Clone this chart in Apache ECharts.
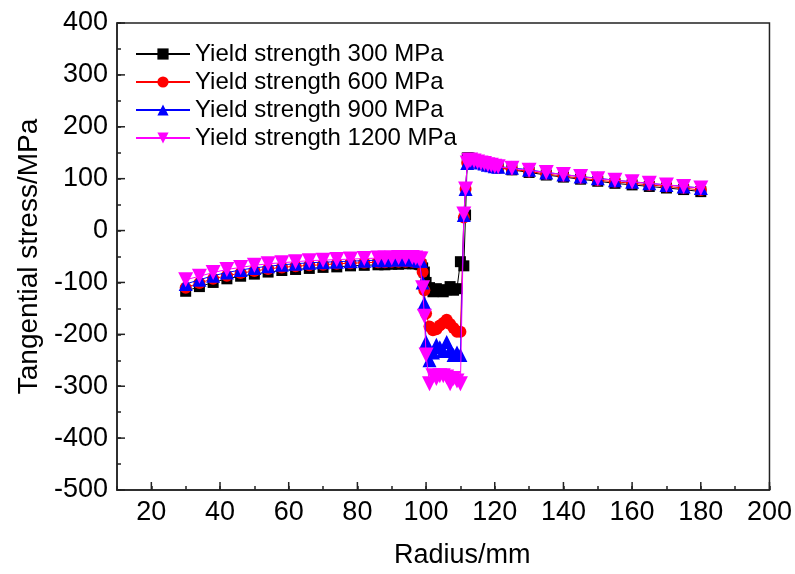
<!DOCTYPE html>
<html>
<head>
<meta charset="utf-8">
<script src="https://cdn.jsdelivr.net/npm/echarts@6/dist/echarts.min.js"></script>
<style>
  html, body { margin: 0; padding: 0; background: #fff; }
  #chart { width: 795px; height: 574px; }
</style>
</head>
<body>
<div id="chart"></div>
<script>
// radius positions (mm), shared by all four series
const radius = [
  30, 34, 38, 42, 46, 50, 54, 58, 62, 66, 70, 74, 78, 82, 86, 88, 90, 92, 94, 96, 97, 98,
  98.5, 99, 99.5, 100, 101, 102, 103, 104, 105, 106, 107, 108, 109, 110, 111, 111.5, 112,
  112.5, 113, 114, 115, 116, 117, 118, 119, 120, 121,
  125, 130, 135, 140, 145, 150, 155, 160, 165, 170, 175, 180
]

const names = [
  'Yield strength 300 MPa',
  'Yield strength 600 MPa',
  'Yield strength 900 MPa',
  'Yield strength 1200 MPa'
]

const stress300 = [
  -117, -108, -100, -93, -88, -84, -80, -77, -75, -73, -71, -70, -68, -67, -66, -66, -65, -65, -64, -64, -64, -65,
  -66, -72, -80, -100, -110, -118, -112, -115, -118, -114, -108, -115, -112, -60, -68, 30, 140,
  140, 138, 135, 133, 131, 129, 127, 125, 123, 121,
  117, 112, 107, 103, 99, 95, 91, 88, 85, 82, 79, 75
]
const stress600 = [
  -110, -101, -93, -87, -82, -78, -74, -71, -69, -67, -66, -64, -63, -62, -61, -61, -60, -60, -60, -60, -60, -62,
  -62, -80, -115, -160, -185, -192, -190, -183, -178, -172, -180, -188, -195, -195, 25, 80, 130,
  132, 134, 133, 131, 129, 127, 125, 124, 122, 121,
  118, 114, 109, 105, 101, 97, 94, 91, 88, 85, 82, 78
]
const stress900 = [
  -103, -95, -87, -81, -76, -72, -69, -66, -64, -62, -61, -60, -59, -58, -57, -57, -56, -56, -56, -56, -56, -58,
  -58, -100, -140, -215, -250, -235, -220, -225, -232, -215, -230, -240, -235, -240, 30, 80, 130,
  133, 136, 135, 133, 131, 129, 127, 126, 124, 123,
  121, 117, 112, 108, 104, 101, 97, 94, 91, 88, 85, 82
]
const stress1200 = [
  -95, -88, -81, -75, -71, -67, -64, -62, -60, -58, -57, -56, -55, -54, -53, -53, -53, -52, -52, -52, -53, -55,
  -55, -110, -165, -240, -295, -280, -285, -280, -280, -282, -295, -285, -290, -295, 32, 80, 130,
  135, 136, 134, 132, 130, 129, 127, 126, 124, 123,
  120, 116, 112, 108, 104, 100, 97, 94, 91, 88, 85, 82
]

const xTicks = [20, 40, 60, 80, 100, 120, 140, 160, 180, 200]
const yTicks = [-500, -400, -300, -200, -100, 0, 100, 200, 300, 400]

const chart = echarts.init(document.getElementById('chart'))

const font = 'Liberation Sans, Arial, sans-serif'
const colors = ['#000000', '#ff0000', '#0000ff', '#ff00ff']
const symbols = ['rect', 'circle', 'triangle', 'path://M0,0 L10,0 L5,9 Z']
const sizes = [11, 12, 14, 15]
const values = [stress300, stress600, stress900, stress1200]

const series = names.map((name, i) => ({
  name: name,
  type: 'line',
  data: radius.map((r, k) => [r, values[i][k]]),
  symbol: symbols[i],
  symbolSize: sizes[i],
  showAllSymbol: true,
  lineStyle: { color: colors[i], width: 1 },
  itemStyle: { color: colors[i] },
  z: 2 + i
}))

// longer major ticks, drawn in data space at the bottom and left axes
const majorTicks = [{
  type: 'custom',
  silent: true,
  z: 1,
  data: xTicks.map(v => [v]),
  renderItem: (params, api) => {
    const p = api.coord([api.value(0), -500])
    return {
      type: 'line',
      shape: { x1: p[0], y1: p[1], x2: p[0], y2: p[1] - 8 },
      style: { stroke: '#222', lineWidth: 1.5 }
    }
  }
}, {
  type: 'custom',
  silent: true,
  z: 1,
  data: yTicks.map(v => [v]),
  renderItem: (params, api) => {
    const p = api.coord([10, api.value(0)])
    return {
      type: 'line',
      shape: { x1: p[0], y1: p[1], x2: p[0] + 8, y2: p[1] },
      style: { stroke: '#222', lineWidth: 1.5 }
    }
  }
}]

const option = {
  animation: false,
  backgroundColor: '#fff',
  grid: {
    left: 117,
    right: 25,
    top: 23,
    bottom: 74,
    show: true,
    borderColor: '#222',
    borderWidth: 1.5
  },
  legend: {
    orient: 'vertical',
    left: 130,
    top: 37,
    itemWidth: 54,
    itemHeight: 14,
    itemGap: 4,
    textStyle: { fontFamily: font, fontSize: 24, color: '#000', lineHeight: 24 },
    data: names
  },
  xAxis: {
    type: 'value',
    min: 10,
    max: 200,
    interval: 10,
    name: 'Radius/mm',
    nameLocation: 'middle',
    nameGap: 52,
    nameTextStyle: { fontFamily: font, fontSize: 27, color: '#000', padding: [0, 0, 0, 38] },
    axisLine: { onZero: false, lineStyle: { color: '#222', width: 1.5 } },
    axisTick: { inside: true, length: 4, lineStyle: { color: '#222', width: 1.5 } },
    splitLine: { show: false },
    axisLabel: {
      fontFamily: font,
      fontSize: 27,
      color: '#000',
      margin: 9,
      formatter: v => (xTicks.indexOf(v) >= 0 ? String(v) : '')
    }
  },
  yAxis: {
    type: 'value',
    min: -500,
    max: 400,
    interval: 50,
    name: 'Tangential stress/MPa',
    nameLocation: 'middle',
    nameGap: 73,
    nameTextStyle: { fontFamily: font, fontSize: 28, color: '#000' },
    axisLine: { onZero: false, lineStyle: { color: '#222', width: 1.5 } },
    axisTick: { inside: true, length: 4, lineStyle: { color: '#222', width: 1.5 } },
    splitLine: { show: false },
    axisLabel: {
      fontFamily: font,
      fontSize: 27,
      color: '#000',
      margin: 9,
      formatter: v => (yTicks.indexOf(v) >= 0 ? String(v) : '')
    }
  },
  series: series.concat(majorTicks)
}

chart.setOption(option)
</script>
</body>
</html>
